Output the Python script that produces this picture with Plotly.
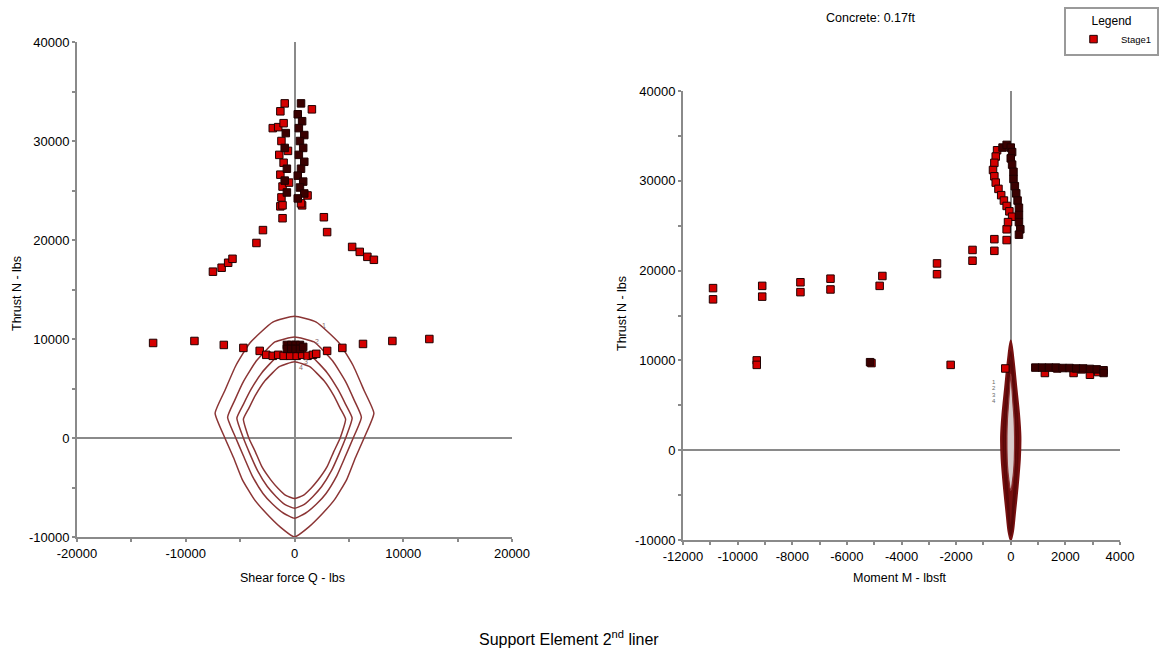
import plotly.graph_objects as go

W, H = 1164, 654

# ---------------- Left plot: Shear force vs Thrust ----------------
q_red = [-13000, -9200, -6500, -4700, -3200, 3000, 4400, 6300, 9000, 12400,
         -2600, -2000, -1500, -1000, -400, 200, 700, 1200, 1700, 2000,
         -7500, -6700, -6100, -5700, -3500, -2900, -1100, -1300,
         700, 2700, 3000, 5300, 6000, 6700, 7300,
         -900, -1300, -2000, -1500, -1000, -1200, -1400, -1000, -1300, -1100, -1200, -1100,
         1600, 1200, 600, -600, -500]
n_red = [9600, 9800, 9400, 9100, 8800, 8800, 9100, 9500, 9800, 10000,
         8400, 8300, 8400, 8300, 8300, 8300, 8400, 8300, 8400, 8500,
         16800, 17200, 17700, 18100, 19700, 21000, 22200, 23400,
         23500, 22300, 20800, 19300, 18800, 18300, 18000,
         33800, 33000, 31300, 31400, 31800, 30000, 28600, 27800, 26600, 25400, 24300, 23500,
         33200, 24500, 23700, 29000, 25800]
q_dark = [-700, -300, 100, 500, -700, -300, 100, 500, 800,
          600, 300, 700, 400, 900, 500, 800, 400, 900, 600, 300, 800, 500, 900, 300,
          -800, -900, -700, -900, -700]
n_dark = [9400, 9400, 9400, 9400, 9000, 9000, 9000, 9000, 9200,
          33800, 32700, 32000, 31300, 30600, 30000, 29300, 28600, 27900, 27200, 26500, 25900, 25300, 24700, 24200,
          30800, 29300, 27200, 26000, 24800]

env1_q = [0, -2000, -4100, -5400, -6400, -7300, -6400, -5600, -4800, -3700, -2600, -1300, 0,
          1300, 2600, 3700, 4800, 5600, 6400, 7300, 6400, 5400, 4100, 2000, 0]
env1_n = [12300, 11700, 9600, 7300, 4800, 2500, 0, -2000, -4200, -6200, -7600, -9000, -10000,
          -9000, -7600, -6200, -4200, -2000, 0, 2500, 4800, 7300, 9600, 11700, 12300]
env2_q = [0, -1800, -3500, -4700, -5500, -6150, -5400, -4700, -3900, -2900, -2000, -1000, 0,
          1000, 2000, 2900, 3900, 4700, 5400, 6150, 5500, 4700, 3500, 1800, 0]
env2_n = [10200, 9700, 7800, 5700, 3800, 2100, 0, -1800, -3800, -5600, -6700, -7600, -8100,
          -7600, -6700, -5600, -3800, -1800, 0, 2100, 3800, 5700, 7800, 9700, 10200]
env3_q = [0, -1600, -3000, -4000, -4700, -5300, -4700, -4100, -3400, -2500, -1700, -900, 0,
          900, 1700, 2500, 3400, 4100, 4700, 5300, 4700, 4000, 3000, 1600, 0]
env3_n = [8700, 8200, 6600, 4900, 3400, 2000, 0, -1600, -3300, -4900, -5900, -6700, -7100,
          -6700, -5900, -4900, -3300, -1600, 0, 2000, 3400, 4900, 6600, 8200, 8700]
env4_q = [0, -1400, -2700, -3600, -4200, -4700, -4200, -3600, -3000, -2200, -1500, -800, 0,
          800, 1500, 2200, 3000, 3600, 4200, 4700, 4200, 3600, 2700, 1400, 0]
env4_n = [7700, 7200, 5800, 4300, 3000, 1900, 0, -1400, -2900, -4200, -5100, -5800, -6100,
          -5800, -5100, -4200, -2900, -1400, 0, 1900, 3000, 4300, 5800, 7200, 7700]

# ---------------- Right plot: Moment vs Thrust ----------------
m_red = [-10900, -10900, -9100, -9100, -7700, -7700, -6600, -6600, -4700, -4800,
         -2700, -2700, -1400, -1400, -600, -600, -150, -150,
         -9300, -9300, -5100, -2200, -200,
         1250, 2300, 2900, 3200, 1700, 2600,
         -500, -550, -600, -650, -600, -550, -450, -350, -250, -150, -50, 50, -100]
nm_red = [18050, 16800, 18300, 17100, 18700, 17600, 19100, 17900, 19400, 18300,
          20800, 19600, 22300, 21100, 23500, 22200, 23400, 24600,
          10000, 9500, 9700, 9500, 9100,
          8600, 8600, 8400, 8700, 9100, 9000,
          33400, 32700, 32000, 31200, 30500, 29800, 29100, 28400, 27800, 27200, 26600, 26000, 25400]
m_dark = [900, 1150, 1400, 1650, 1900, 2150, 2400, 2650, 2900, 3150, 3400, 3400,
          -300, -150, 0, 50, 0, 50, 100, 100, 150, 200, 250, 300, 300, 300, 350, 300, -5150]
nm_dark = [9200, 9200, 9200, 9200, 9150, 9150, 9100, 9100, 9050, 9000, 8900, 8600,
           33700, 34000, 33700, 33200, 32500, 31800, 31000, 30200, 29400, 28600, 27800, 27000, 26200, 25400, 24600, 24000, 9800]

renv1_m = [0, -100, -200, -300, -350, -330, -250, -150, -80, 0, 80, 150, 250, 330, 350, 300, 200, 100, 0]
renv1_n = [12200, 10000, 7000, 4000, 1500, -1000, -4000, -7000, -9000, -10000, -9000, -7000, -4000, -1000, 1500, 4000, 7000, 10000, 12200]
renv2_m = [0, -80, -150, -230, -270, -250, -190, -110, -60, 0, 60, 110, 190, 250, 270, 230, 150, 80, 0]
renv2_n = [11000, 9000, 6500, 4000, 1500, -1000, -4000, -6500, -8500, -9500, -8500, -6500, -4000, -1000, 1500, 4000, 6500, 9000, 11000]
renv3_m = [0, -60, -110, -170, -200, -180, -140, -80, -40, 0, 40, 80, 140, 180, 200, 170, 110, 60, 0]
renv3_n = [10000, 8200, 6000, 3800, 1500, -1000, -3800, -6000, -8000, -9000, -8000, -6000, -3800, -1000, 1500, 3800, 6000, 8200, 10000]
renv4_m = [0, -40, -80, -120, -140, -130, -100, -60, -30, 0, 30, 60, 100, 130, 140, 120, 80, 40, 0]
renv4_n = [8500, 7000, 5200, 3500, 1500, -1000, -2500, -3500, -4200, -4500, -4200, -3500, -2500, -1000, 1500, 3500, 5200, 7000, 8500]

# tick labels
q_ticks = [-20000, -10000, 0, 10000, 20000]
q_ticklabels = ["-20000", "-10000", "0", "10000", "20000"]
n_ticks = [-10000, 0, 10000, 20000, 30000, 40000]
n_ticklabels = ["-10000", "0", "10000", "20000", "30000", "40000"]
m_ticks = [-12000, -10000, -8000, -6000, -4000, -2000, 0, 2000, 4000]
m_ticklabels = ["-12000", "-10000", "-8000", "-6000", "-4000", "-2000", "0", "2000", "4000"]

RED = "#d40000"
DARK = "#3a0000"
ENV = "#8b3535"
SPINDLE = "#761010"
AX = "#8a8a8a"
FONT = "Liberation Sans, Arial, sans-serif"

fig = go.Figure()

def env(x, y, xa, ya, w=1.5, color=ENV, smooth=0.45, fill=None):
    fig.add_trace(go.Scatter(x=x, y=y, mode="lines", xaxis=xa, yaxis=ya,
                             line=dict(color=color, width=w, shape="spline", smoothing=smooth),
                             fill="toself" if fill else None, fillcolor=fill,
                             showlegend=False, hoverinfo="skip"))

for ex, ey in [(env1_q, env1_n), (env2_q, env2_n), (env3_q, env3_n), (env4_q, env4_n)]:
    env(ex, ey, "x", "y")
env(renv1_m, renv1_n, "x2", "y2", 2.2, SPINDLE, 0.8, fill=SPINDLE)
env(renv2_m, renv2_n, "x2", "y2", 1.5, "#5a0808", 0.8)
env(renv3_m, renv3_n, "x2", "y2", 1.5, "#5a0808", 0.8)
env(renv4_m, renv4_n, "x2", "y2", 1.2, "#8a3030", 0.8, fill="#d9cccc")

mk = lambda c: dict(symbol="square", size=7.5, color=c, line=dict(color="#200000", width=1))

fig.add_trace(go.Scatter(x=q_red, y=n_red, mode="markers", xaxis="x", yaxis="y",
                         marker=mk(RED), name="Stage1", legendgroup="s1", showlegend=True))
fig.add_trace(go.Scatter(x=q_dark, y=n_dark, mode="markers", xaxis="x", yaxis="y",
                         marker=mk(DARK), name="Stage1", legendgroup="s1", showlegend=False))
fig.add_trace(go.Scatter(x=m_red, y=nm_red, mode="markers", xaxis="x2", yaxis="y2",
                         marker=mk(RED), name="Stage1", legendgroup="s1", showlegend=False))
fig.add_trace(go.Scatter(x=m_dark, y=nm_dark, mode="markers", xaxis="x2", yaxis="y2",
                         marker=mk(DARK), name="Stage1", legendgroup="s1", showlegend=False))

def axis(domain, rng, tv, tt, minor, anchor):
    return dict(domain=domain, range=rng, tickvals=tv, ticktext=tt, anchor=anchor,
                automargin=False,
                showgrid=False, zeroline=True, zerolinecolor=AX, zerolinewidth=1.5,
                showline=True, linecolor=AX, linewidth=2, mirror=False,
                ticks="outside", ticklen=3, tickcolor=AX, tickwidth=1.5,
                minor=dict(dtick=minor, tick0=0, ticks="outside", ticklen=3, tickcolor=AX,
                           tickwidth=1.5, showgrid=False),
                tickfont=dict(family=FONT, size=13, color="black"), fixedrange=True)

fig.update_layout(
    width=W, height=H, margin=dict(l=0, r=0, t=0, b=0, autoexpand=False),
    paper_bgcolor="white", plot_bgcolor="white",
    font=dict(family=FONT, color="black"),
    xaxis=axis([77 / W, 512 / W], [-20000, 20000], q_ticks, q_ticklabels, 5000, "y"),
    yaxis=axis([1 - 537 / H, 1 - 42 / H], [-10000, 40000], n_ticks, n_ticklabels, 5000, "x"),
    xaxis2=axis([683 / W, 1120 / W], [-12000, 4000], m_ticks, m_ticklabels, 1000, "y2"),
    yaxis2=axis([1 - 540 / H, 1 - 91 / H], [-10000, 40000], n_ticks, n_ticklabels, 5000, "x2"),
    showlegend=True,
    legend=dict(x=1064 / W, y=1 - 7 / H, xanchor="left", yanchor="top",
                bordercolor="#9a9a9a", borderwidth=2, bgcolor="white",
                font=dict(family=FONT, size=9.5, color="black"),
                title=dict(text="Legend", side="top center", font=dict(family=FONT, size=12)),
                itemwidth=45, tracegroupgap=0),
)

ann = []
def txt(t, x, y, size=12.5, angle=0, color="black", xref="paper", yref="paper", xanchor="center"):
    ann.append(dict(text=t, x=x, y=y, xref=xref, yref=yref, showarrow=False, textangle=angle,
                    xanchor=xanchor, yanchor="middle", font=dict(family=FONT, size=size, color=color)))

txt("Shear force Q - lbs", 292 / W, 1 - 578 / H)
txt("Thrust N - lbs", 17 / W, 1 - 294 / H, angle=-90)
txt("Moment M - lbsft", 900 / W, 1 - 578 / H)
txt("Thrust N - lbs", 622 / W, 1 - 314 / H, angle=-90)
txt("Concrete: 0.17ft", 870 / W, 1 - 18 / H)
txt("Support Element 2<sup>nd</sup> liner", 569 / W, 1 - 638 / H, size=16)
for lab, xq, yn in [("1", 2750, 11400), ("2", 2100, 9700), ("3", 1100, 7700), ("4", 600, 7100)]:
    txt(lab, xq, yn, size=7, color="#8a6a6a", xref="x", yref="y")
for lab, xm, yn in [("1", -600, 7600), ("2", -600, 6900), ("3", -600, 6200), ("4", -600, 5500)]:
    txt(lab, xm, yn, size=6, color="#6a6a6a", xref="x2", yref="y2")
fig.update_layout(annotations=ann)

fig.write_html("out.html")
